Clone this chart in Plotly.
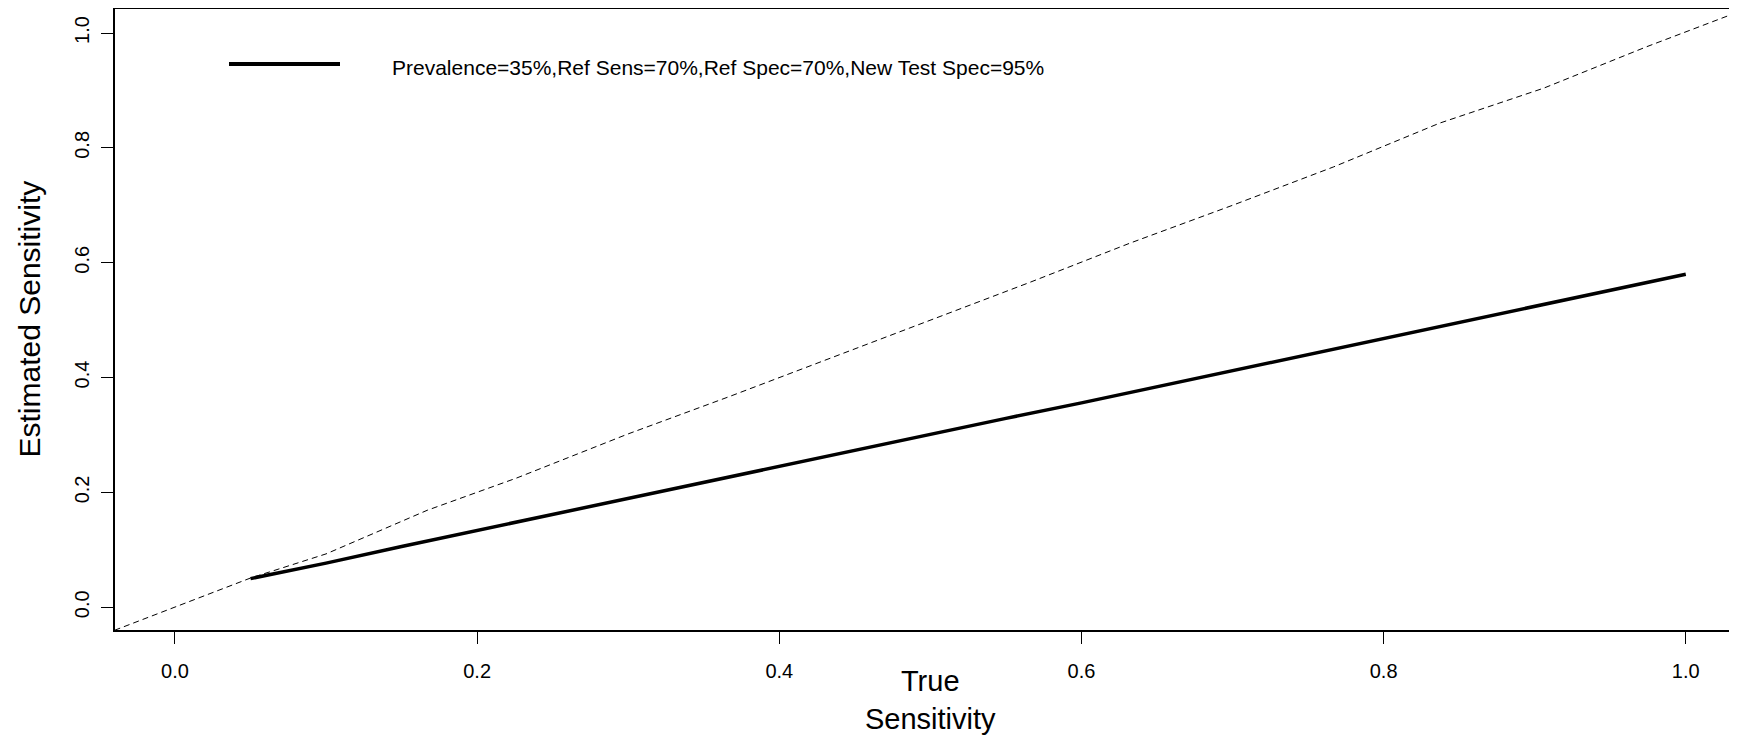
import plotly.graph_objects as go

# ---- data ----
true_sens = [0.05, 0.10, 0.15, 0.20, 0.25, 0.30, 0.35, 0.40, 0.45, 0.50,
             0.55, 0.60, 0.65, 0.70, 0.75, 0.80, 0.85, 0.90, 0.95, 1.00]
est_sens = [0.050, 0.077, 0.106, 0.134, 0.161, 0.189, 0.217, 0.245, 0.273, 0.301,
            0.329, 0.356, 0.384, 0.412, 0.441, 0.468, 0.496, 0.525, 0.552, 0.580]

ref_x = [-0.04, 0.0, 0.05, 0.10, 0.167, 0.226, 0.30, 0.367, 0.436, 0.498,
         0.566, 0.632, 0.70, 0.767, 0.837, 0.906, 0.974, 1.04]
ref_y = [-0.04, 0.0, 0.051, 0.093, 0.169, 0.225, 0.302, 0.367, 0.436, 0.497,
         0.566, 0.634, 0.70, 0.767, 0.843, 0.904, 0.976, 1.042]

tick_vals = [0.0, 0.2, 0.4, 0.6, 0.8, 1.0]
tick_text = ["0.0", "0.2", "0.4", "0.6", "0.8", "1.0"]

legend_label = "Prevalence=35%,Ref Sens=70%,Ref Spec=70%,New Test Spec=95%"
x_title = "True<br>Sensitivity"
y_title = "Estimated Sensitivity"

FONT = "Liberation Sans, Arial, Helvetica, sans-serif"

fig = go.Figure()
fig.add_trace(go.Scatter(x=ref_x, y=ref_y, mode="lines",
                         line=dict(color="black", width=1, dash="6px,4px"),
                         showlegend=False, hoverinfo="skip"))
fig.add_trace(go.Scatter(x=true_sens, y=est_sens, mode="lines",
                         line=dict(color="black", width=3.5),
                         name=legend_label, showlegend=False))

# the page body has an 8px margin; size the figure so the plot lands where the reference has it
OFF = 8
W, H = 1737 - OFF, 735 - OFF
L, R, T, B = 115 - OFF, 0, 9 - OFF, 105
pw = W - L - R
ph = H - T - B


def px_x(p):  # window pixel -> paper x
    return (p - OFF - L) / pw


def px_y(p):  # window pixel -> paper y
    return (H - B - (p - OFF)) / ph


axis_common = dict(
    showgrid=False, zeroline=False, showline=True, linecolor="black", linewidth=1.5,
    ticks="outside", ticklen=12, tickwidth=1, tickcolor="black",
    tickvals=tick_vals, ticktext=tick_text,
    tickfont=dict(family=FONT, size=20, color="black"),
)

fig.update_layout(
    width=W, height=H,
    margin=dict(l=L, r=R, t=T, b=B, pad=0),
    paper_bgcolor="white", plot_bgcolor="white",
    xaxis=dict(range=[-0.0397, 1.0339], mirror=True, ticklabelstandoff=10, **axis_common),
    yaxis=dict(range=[-0.0395, 1.0418], mirror=False, tickangle=-90, ticklabelstandoff=4, **axis_common),
    showlegend=False,
    shapes=[dict(type="line", xref="paper", yref="paper",
                 x0=px_x(229), x1=px_x(340), y0=px_y(64), y1=px_y(64),
                 line=dict(color="black", width=4))],
    annotations=[
        dict(text=legend_label, xref="paper", yref="paper", x=px_x(390), y=px_y(68),
             xanchor="left", yanchor="middle", showarrow=False,
             font=dict(family=FONT, size=21, color="black")),
        dict(text=x_title, xref="paper", yref="paper", x=px_x(930.5), y=px_y(663),
             xanchor="center", yanchor="top", showarrow=False,
             font=dict(family=FONT, size=29, color="black")),
        dict(text=y_title, xref="paper", yref="paper", x=px_x(29), y=0.5, textangle=-90,
             xanchor="center", yanchor="middle", showarrow=False,
             font=dict(family=FONT, size=30, color="black")),
    ],
)

fig.write_html("out.html")
